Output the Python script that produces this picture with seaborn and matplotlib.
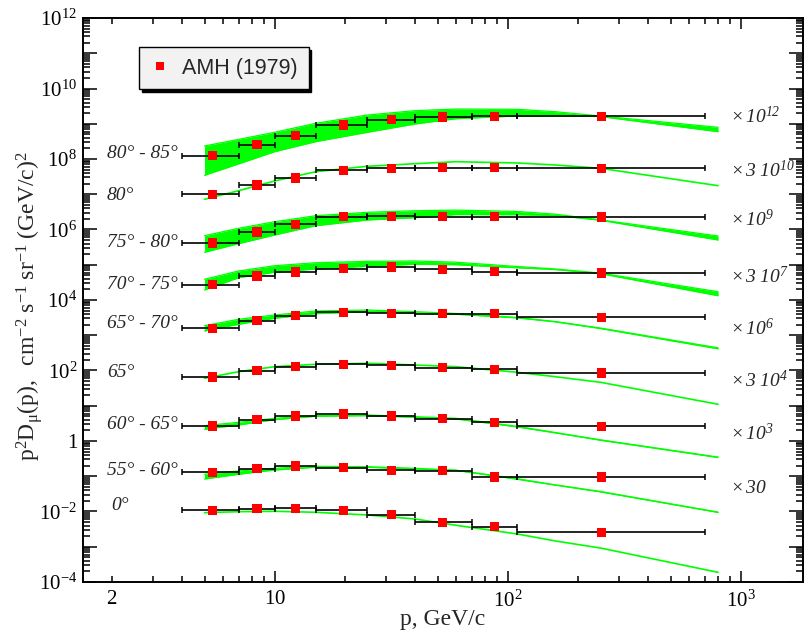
import numpy as np
import pandas as pd
import matplotlib
matplotlib.use("Agg")
import matplotlib.pyplot as plt
import seaborn as sns
from matplotlib.ticker import FixedLocator, FuncFormatter
from matplotlib.lines import Line2D

# ---------------- data (values as plotted, i.e. already multiplied) ----------------
p_mean = [5.4, 8.4, 12.3, 19.7, 31.8, 52.4, 87.6, 252]
p_low = [4, 7, 10, 15, 25, 40, 70, 110]
p_high = [7, 10, 15, 25, 40, 70, 110, 700]

series_names = ["80-85", "80", "75-80", "70-75", "65-70", "65", "60-65", "55-60", "0"]

amh_80_85 = [1.24e8, 2.55e8, 4.58e8, 9.22e8, 1.30e9, 1.55e9, 1.63e9, 1.63e9]
amh_80 = [9.97e6, 1.83e7, 2.89e7, 4.78e7, 5.45e7, 5.66e7, 5.66e7, 5.45e7]
amh_75_80 = [4.14e5, 8.5e5, 1.40e6, 2.31e6, 2.37e6, 2.31e6, 2.31e6, 2.26e6]
amh_70_75 = [2.72e4, 4.80e4, 6.22e4, 7.73e4, 8.63e4, 7.43e4, 6.35e4, 5.83e4]
amh_65_70 = [1574, 2588, 3589, 4480, 4195, 4083, 4083, 3228]
amh_65 = [65.4, 98.6, 128.2, 150, 140.3, 120, 108.1, 84.9]
amh_60_65 = [2.67, 4.02, 5.12, 5.83, 5.12, 4.29, 3.39, 2.61]
amh_55_60 = [0.1294, 0.1637, 0.1954, 0.175, 0.1476, 0.1437, 0.0953, 0.0953]
amh_0 = [0.0108, 0.0120, 0.0123, 0.0108, 0.0081, 0.00494, 0.00371, 0.00257]

# model curves (upper / lower edges of the green bands, or a single line)
p_model = [5, 7, 10, 15, 25, 40, 60, 110, 160, 250, 800]
model_80_85_hi = [2.34e8, 3.60e8, 5.72e8, 1.03e9, 1.77e9, 2.35e9, 2.62e9, 2.57e9, 2.20e9, 1.66e9, 7.93e8]
model_80_85_lo = [3.45e7, 7.26e7, 1.61e8, 3.10e8, 5.72e8, 9.84e8, 1.39e9, 1.66e9, 1.69e9, 1.60e9, 5.95e8]
model_80 = [7.19e6, 1.26e7, 2.38e7, 4.36e7, 6.21e7, 7.35e7, 8.38e7, 7.70e7, 6.76e7, 5.45e7, 1.75e7]
model_75_80_hi = [6.67e5, 1.08e6, 1.66e6, 2.46e6, 3.07e6, 3.41e6, 3.55e6, 3.25e6, 2.72e6, 1.88e6, 6.54e5]
model_75_80_lo = [2.26e5, 3.96e5, 6.98e5, 1.28e6, 1.86e6, 2.16e6, 2.65e6, 2.62e6, 2.50e6, 1.83e6, 5.04e5]
model_70_75_hi = [3.87e4, 6.65e4, 9.40e4, 1.14e5, 1.25e5, 1.28e5, 1.18e5, 8.9e4, 7.6e4, 5.8e4, 1.72e4]
model_70_75_lo = [1.92e4, 4.29e4, 6.11e4, 7.58e4, 9.04e4, 1.03e5, 1.00e5, 8.2e4, 7.3e4, 5.6e4, 1.32e4]
model_65_70_hi = [1866, 2834, 3752, 4875, 5203, 4656, 4140, 3200, 2450, 1600, 440]
model_65_70_lo = [1320, 2045, 3026, 4087, 4656, 4195, 3930, 3100, 2400, 1550, 412]
model_65 = [60.1, 92.4, 128.2, 149.9, 160.0, 143.2, 128.2, 88.9, 66.7, 46.3, 11.0]
model_60_65_hi = [2.72, 3.39, 4.40, 5.22, 5.47, 4.89, 4.40, 2.60, 1.74, 1.08, 0.350]
model_60_65_lo = [2.15, 2.84, 4.02, 5.02, 5.22, 4.70, 4.21, 2.50, 1.70, 1.05, 0.340]
model_55_60_hi = [0.1136, 0.1409, 0.168, 0.1915, 0.1866, 0.168, 0.149, 0.085, 0.057, 0.037, 0.0096]
model_55_60_lo = [0.0835, 0.1136, 0.1504, 0.1795, 0.1795, 0.1606, 0.146, 0.082, 0.056, 0.036, 0.0094]
model_0 = [0.00924, 0.00987, 0.01013, 0.00949, 0.00796, 0.00613, 0.00406, 0.0023, 0.00146, 0.00092, 0.000188]

angle_labels = ["80° - 85°", "80°", "75° - 80°", "70° - 75°", "65° - 70°", "65°",
                "60° - 65°", "55° - 60°", "0°"]
scale_labels = [r"$\mathregular{\times\,10^{12}}$", r"$\mathregular{\times\,3\ 10^{10}}$",
                r"$\mathregular{\times\,10^{9}}$", r"$\mathregular{\times\,3\ 10^{7}}$",
                r"$\mathregular{\times\,10^{6}}$", r"$\mathregular{\times\,3\ 10^{4}}$",
                r"$\mathregular{\times\,10^{3}}$", r"$\mathregular{\times\,30}$"]
legend_label = "AMH (1979)"

amh_all = [amh_80_85, amh_80, amh_75_80, amh_70_75, amh_65_70, amh_65, amh_60_65, amh_55_60, amh_0]
bands = [(model_80_85_lo, model_80_85_hi), (model_75_80_lo, model_75_80_hi),
         (model_70_75_lo, model_70_75_hi), (model_65_70_lo, model_65_70_hi),
         (model_60_65_lo, model_60_65_hi), (model_55_60_lo, model_55_60_hi)]
single_lines = [model_80, model_65, model_0]

# ---------------- style ----------------
sns.set_theme(style="ticks")
plt.rcParams.update({
    "font.family": ["Liberation Serif", "DejaVu Serif"],
    "mathtext.fontset": "custom",
    "mathtext.rm": "Liberation Serif",
    "mathtext.it": "Liberation Serif:italic",
    "mathtext.bf": "Liberation Serif:bold",
    "axes.linewidth": 1.4,
    "axes.edgecolor": "black",
})

GREEN = "#00ff00"
fig = plt.figure(figsize=(8.05, 6.43), dpi=100)
ax = fig.add_axes([0.1027, 0.0949, 0.8951, 0.8771])
ax.set_xscale("log")
ax.set_yscale("log")

# model bands
for lo, hi in bands:
    ax.fill_between(p_model, lo, hi, color=GREEN, lw=0, zorder=1)

rows = []
k = 0
for lo, hi in bands:
    for curve in (lo, hi):
        for p, v in zip(p_model, curve):
            rows.append({"p": p, "v": v, "unit": k})
        k += 1
edge_df = pd.DataFrame(rows)
sns.lineplot(data=edge_df, x="p", y="v", units="unit", estimator=None, sort=False,
             color=GREEN, lw=0.9, ax=ax, legend=False, zorder=1)

rows = []
for i, curve in enumerate(single_lines):
    for p, v in zip(p_model, curve):
        rows.append({"p": p, "v": v, "unit": i})
line_df = pd.DataFrame(rows)
sns.lineplot(data=line_df, x="p", y="v", units="unit", estimator=None, sort=False,
             color=GREEN, lw=1.2, ax=ax, legend=False, zorder=1)

# data error bars + markers
pm = np.array(p_mean)
xerr = [pm - np.array(p_low), np.array(p_high) - pm]
rows = []
for name, vals in zip(series_names, amh_all):
    ax.errorbar(p_mean, vals, xerr=xerr, fmt="none", ecolor="black", elinewidth=1.2,
                capsize=2.2, capthick=1.1, zorder=3)
    for p, v in zip(p_mean, vals):
        rows.append({"p": p, "v": v, "series": name})
pts_df = pd.DataFrame(rows)
sns.scatterplot(data=pts_df, x="p", y="v", marker="s", color="red", s=44,
                edgecolor="none", ax=ax, legend=False, zorder=4)

ax.set_xlim(1.5, 1856)
ax.set_ylim(1e-4, 1e12)

# ticks
ax.xaxis.set_major_locator(FixedLocator([10, 100, 1000]))
xminor = [m * 10.0 ** e for e in range(0, 4) for m in range(2, 10) if 1.5 < m * 10.0 ** e < 1856]
ax.xaxis.set_minor_locator(FixedLocator(xminor))
xlab = {10: r"$\mathregular{10}$", 100: r"$\mathregular{10^2}$", 1000: r"$\mathregular{10^3}$"}
ax.xaxis.set_major_formatter(FuncFormatter(lambda v, pos: xlab.get(int(round(v)), "")))
ax.xaxis.set_minor_formatter(FuncFormatter(lambda v, pos: "2" if abs(v - 2) < 1e-6 else ""))

ax.yaxis.set_major_locator(FixedLocator([10.0 ** e for e in range(-4, 13)]))
yminor = [m * 10.0 ** e for e in range(-4, 12) for m in range(2, 10)]
ax.yaxis.set_minor_locator(FixedLocator(yminor))

def yfmt(v, pos):
    e = int(round(np.log10(v)))
    if e % 2:
        return ""
    if e == 0:
        return "1"
    return r"$\mathregular{10^{%d}}$" % e

ax.yaxis.set_major_formatter(FuncFormatter(yfmt))
ax.tick_params(which="both", direction="in", top=True, right=True, colors="black",
               labelsize=15, width=1.1)
ax.tick_params(axis="x", which="major", length=8, pad=6)
ax.tick_params(axis="x", which="minor", length=4.5, pad=6)
ax.tick_params(axis="y", which="major", length=10, pad=4)
ax.tick_params(axis="y", which="minor", length=5)
for lab in ax.get_xticklabels(minor=True):
    lab.set_fontsize(15)

ax.set_xlabel("p, GeV/c", fontsize=17)
ax.xaxis.set_label_coords(0.5, -0.048)
ax.set_ylabel(r"$\mathregular{p^2D_\mu(p),\ \ cm^{-2}\ s^{-1}\ sr^{-1}\ (GeV/c)^2}$", fontsize=17)
ax.yaxis.set_label_coords(-0.052, 0.489)

# angle labels (left) and scale factors (right)
left_y = [0.7512, 0.6773, 0.5934, 0.5200, 0.4498, 0.3629, 0.2707, 0.1897, 0.1268]
for i, (txt, yy) in enumerate(zip(angle_labels, left_y)):
    xx = 0.0402 if txt == "0°" else 0.0337
    ax.text(xx, yy, txt, transform=ax.transAxes, fontsize=14, style="italic",
            ha="left", va="baseline")
right_y = [0.8133, 0.7186, 0.6312, 0.5307, 0.4379, 0.3463, 0.2518, 0.1583]
for txt, yy in zip(scale_labels, right_y):
    ax.text(0.8983, yy, txt, transform=ax.transAxes, fontsize=14, style="italic",
            ha="left", va="baseline")

# legend
handle = Line2D([], [], marker="s", color="red", ls="none", markersize=6, markeredgewidth=0)
leg = ax.legend([handle], [legend_label], loc="upper left", bbox_to_anchor=(0.0785, 0.949),
                prop={"family": "Liberation Sans", "size": 15.5}, frameon=True,
                fancybox=False, edgecolor="black", facecolor="#f2f2f2", framealpha=1,
                shadow={"color": "black", "alpha": 1.0}, borderpad=0.5,
                handlelength=0.9, handletextpad=0.6, borderaxespad=0)
leg.get_frame().set_linewidth(1.0)

fig.savefig("out.png", dpi=100)
